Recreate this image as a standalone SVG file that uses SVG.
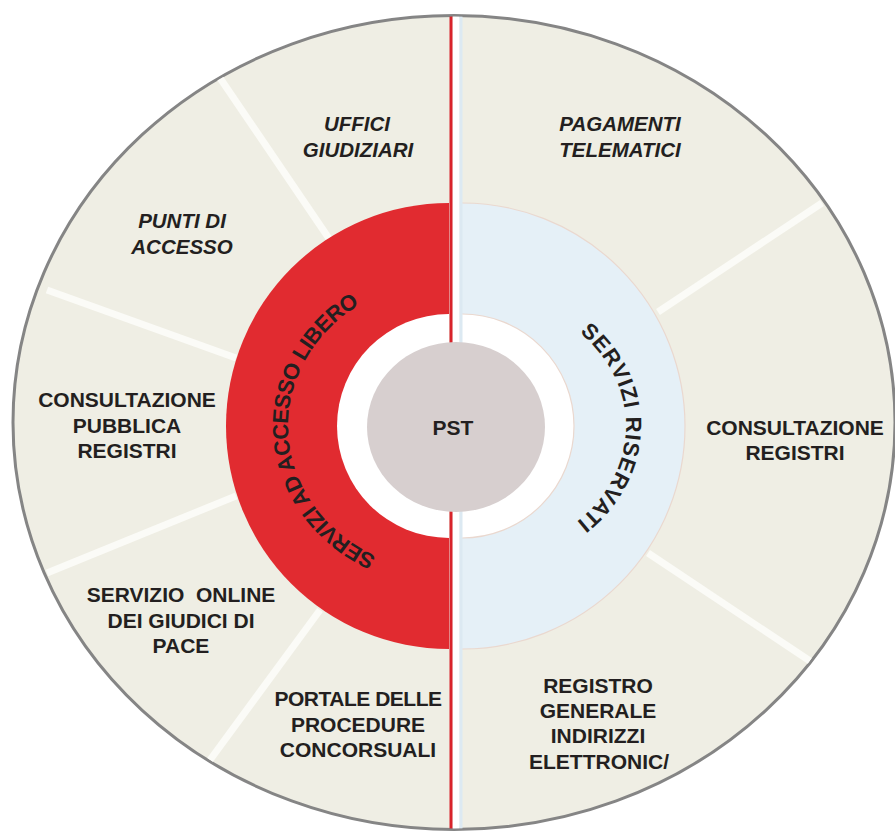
<svg xmlns="http://www.w3.org/2000/svg" width="895" height="833" viewBox="0 0 895 833">
<defs>
<style>
.lbl{font-family:"Liberation Sans",Arial,sans-serif;font-weight:bold;font-size:21px;fill:#231f20;text-anchor:middle}
.it{font-style:italic;font-size:20.5px}
.spoke{stroke:#fbfbf7;stroke-width:7;fill:none}
.arc{font-family:"Liberation Sans",Arial,sans-serif;font-weight:bold;font-size:22px;fill:#231f20;text-anchor:middle}
.edge{fill:none;stroke:#ead8cf;stroke-width:1.2}
</style>
<clipPath id="disc-clip"><ellipse cx="454" cy="422.5" rx="440" ry="406"/></clipPath>
<path id="arcL" d="M 449 572 A 161 146 0 0 1 449 280"/>
<path id="arcR" d="M 462 292 A 164 134 0 0 1 462 560"/>
</defs>
<rect width="895" height="833" fill="#ffffff"/>
<g id="outer-disc">
<ellipse cx="454" cy="422.5" rx="441" ry="407" fill="#efeee4" stroke="#858585" stroke-width="3"/>
</g>
<g id="connectors" clip-path="url(#disc-clip)">
<line class="spoke" x1="220" y1="78" x2="330" y2="240"/>
<line class="spoke" x1="47" y1="290" x2="236" y2="358"/>
<line class="spoke" x1="47" y1="573" x2="236" y2="496"/>
<line class="spoke" x1="210" y1="760" x2="320" y2="610"/>
<line class="spoke" x1="822" y1="203" x2="658" y2="312"/>
<line class="spoke" x1="810" y1="661" x2="648" y2="553"/>
</g>
<g id="ring-libero">
<path d="M 449 203 A 223 223 0 0 0 449 649 Z" fill="#e12b30"/>
<path d="M 449 314 A 112 112 0 0 0 449 538 Z" fill="#ffffff"/>
<text class="arc" letter-spacing="-0.5"><textPath href="#arcL" startOffset="48%">SERVIZI AD ACCESSO LIBERO</textPath></text>
</g>
<g id="ring-riservati">
<path d="M 462 203 A 223 223 0 0 1 462 649 Z" fill="#e5f0f7"/>
<path class="edge" d="M 462 203 A 223 223 0 0 1 462 649"/>
<path d="M 462 314 A 112 112 0 0 1 462 538 Z" fill="#ffffff"/>
<path class="edge" d="M 462 314 A 112 112 0 0 1 462 538"/>
<text class="arc" letter-spacing="0.9"><textPath href="#arcR" startOffset="50.5%">SERVIZI RISERVATI</textPath></text>
</g>
<g id="divider" clip-path="url(#disc-clip)">
<rect x="452.5" y="10" width="7" height="825" fill="#ffffff"/>
<rect x="459.5" y="10" width="3" height="825" fill="#dce9f2"/>
<rect x="449.5" y="10" width="3" height="825" fill="#d8232a"/>
</g>
<g id="pst">
<ellipse cx="456" cy="427" rx="89" ry="85" fill="#d7cfcf"/>
<text class="lbl" x="453" y="435" font-size="23">PST</text>
</g>
<g id="uffici-giudiziari">
<text class="lbl it" x="357" y="131">UFFICI</text>
<text class="lbl it" x="358" y="157">GIUDIZIARI</text>
</g>
<g id="punti-di-accesso">
<text class="lbl it" x="182" y="228">PUNTI DI</text>
<text class="lbl it" x="182" y="254">ACCESSO</text>
</g>
<g id="pagamenti-telematici">
<text class="lbl it" x="620" y="131">PAGAMENTI</text>
<text class="lbl it" x="620" y="157">TELEMATICI</text>
</g>
<g id="consultazione-pubblica">
<text class="lbl" x="127" y="407">CONSULTAZIONE</text>
<text class="lbl" x="127" y="432.5">PUBBLICA</text>
<text class="lbl" x="127" y="458">REGISTRI</text>
</g>
<g id="consultazione-registri">
<text class="lbl" x="795" y="435">CONSULTAZIONE</text>
<text class="lbl" x="795" y="460">REGISTRI</text>
</g>
<g id="servizio-online">
<text class="lbl" x="181" y="602" style="white-space:pre">SERVIZIO  ONLINE</text>
<text class="lbl" x="181" y="628">DEI GIUDICI DI</text>
<text class="lbl" x="181" y="653">PACE</text>
</g>
<g id="portale-procedure">
<text class="lbl" x="358" y="706" letter-spacing="-0.5">PORTALE DELLE</text>
<text class="lbl" x="358" y="732">PROCEDURE</text>
<text class="lbl" x="358" y="757">CONCORSUALI</text>
</g>
<g id="registro-generale">
<text class="lbl" x="598" y="693">REGISTRO</text>
<text class="lbl" x="598" y="718">GENERALE</text>
<text class="lbl" x="598" y="743">INDIRIZZI</text>
<text class="lbl" x="599" y="769">ELETTRONIC/</text>
</g>
</svg>
